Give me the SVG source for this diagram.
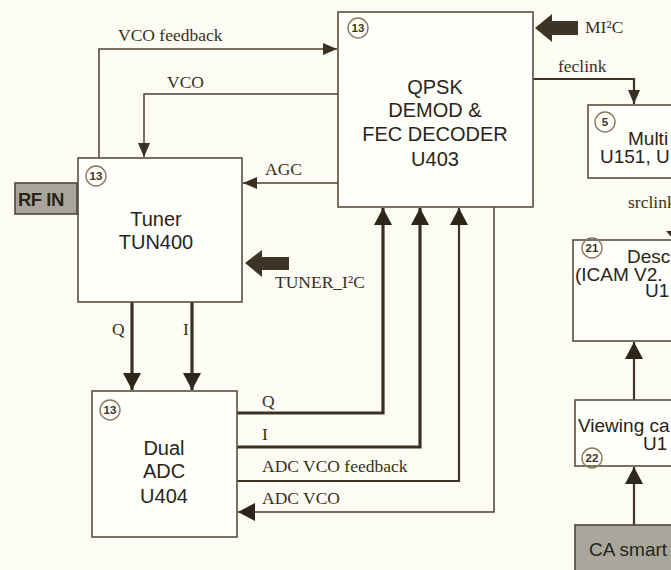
<svg xmlns="http://www.w3.org/2000/svg" width="671" height="570" viewBox="0 0 671 570">
<defs>
<style>
.box{fill:#fefefa;stroke:#5a4e3c;stroke-width:1.6}
.gray{fill:#a9a79c;stroke:#4e473a;stroke-width:1.6}
.lbl{font-family:"Liberation Sans",Arial,sans-serif;font-size:20px;fill:#2a2418}
.rl{font-size:19px}
.ser{font-family:"Liberation Serif","Times New Roman",serif;font-size:17.5px;fill:#3a3020}
.num{font-family:"Liberation Sans",Arial,sans-serif;font-size:11.5px;font-weight:bold;fill:#3e3224}
.circ{fill:none;stroke:#8a7860;stroke-width:1.4}
.thin{fill:none;stroke:#4a3f2e;stroke-width:1.5}
.med{fill:none;stroke:#3e3426;stroke-width:2.2}
.thick{fill:none;stroke:#3a3022;stroke-width:3.2}
.fat{fill:#3b3427}
</style>
<marker id="ah" viewBox="0 0 14 12" refX="14" refY="6" markerWidth="14" markerHeight="12" markerUnits="userSpaceOnUse" orient="auto">
<path d="M0,0 L14,6 L0,12 z" fill="#3a3022"/>
</marker>
<marker id="ahb" viewBox="0 0 17 18" refX="17" refY="9" markerWidth="17" markerHeight="18" markerUnits="userSpaceOnUse" orient="auto">
<path d="M0,0 L17,9 L0,18 z" fill="#2e261a"/>
</marker>
</defs>
<rect x="0" y="0" width="671" height="570" fill="#fcfbf4"/>

<g id="connectors">
<path class="thin" d="M99,158 V49 H337" marker-end="url(#ah)"/>
<path class="thin" d="M338,94 H144 V157" marker-end="url(#ah)"/>
<path class="thin" d="M338,183 H243" marker-end="url(#ah)"/>
<path class="med" d="M533,79 H634 V104" marker-end="url(#ah)"/>
<path class="thick" d="M132,302 V390" marker-end="url(#ahb)"/>
<path class="thick" d="M192,302 V390" marker-end="url(#ahb)"/>
<path class="thick" d="M237,413 H383 V208" marker-end="url(#ahb)"/>
<path class="thick" d="M237,447 H420 V208" marker-end="url(#ahb)"/>
<path class="med" d="M237,481 H459 V208" marker-end="url(#ahb)"/>
<path class="thin" d="M494,207 V512 H238" marker-end="url(#ahb)"/>
<path class="med" d="M634,400 V342" marker-end="url(#ahb)"/>
<path class="med" d="M634,525 V467" marker-end="url(#ahb)"/>
<path d="M666,231 L682,231 L674,240 z" fill="#3a3022"/>
<polygon class="fat" points="535,28 552,14 552,21 578,21 578,35 552,35 552,42"/>
<polygon class="fat" points="245,263 262,250 262,257 289,257 289,270 262,270 262,277"/>
<text class="ser" x="118" y="41">VCO feedback</text>
<text class="ser" x="167" y="88">VCO</text>
<text class="ser" x="265" y="175">AGC</text>
<text class="ser" x="585" y="33">MI²C</text>
<text class="ser" x="558" y="72">feclink</text>
<text class="ser" x="275" y="288">TUNER_I²C</text>
<text class="ser" x="112" y="335">Q</text>
<text class="ser" x="183" y="335">I</text>
<text class="ser" x="262" y="407">Q</text>
<text class="ser" x="262" y="440">I</text>
<text class="ser" x="262" y="472">ADC VCO feedback</text>
<text class="ser" x="262" y="504">ADC VCO</text>
<text class="ser" x="628" y="208">srclink</text>
</g>

<g id="qpsk">
<rect class="box" x="338" y="12" width="195" height="195"/>
<circle class="circ" cx="358" cy="28" r="10"/>
<text class="num" x="358" y="32" text-anchor="middle">13</text>
<text class="lbl" x="435" y="94" text-anchor="middle">QPSK</text>
<text class="lbl" x="435" y="117" text-anchor="middle">DEMOD &amp;</text>
<text class="lbl" x="435" y="141" text-anchor="middle">FEC DECODER</text>
<text class="lbl" x="435" y="166" text-anchor="middle">U403</text>
</g>

<g id="tuner">
<rect class="box" x="78" y="158" width="164" height="144"/>
<circle class="circ" cx="96" cy="176" r="10"/>
<text class="num" x="96" y="180" text-anchor="middle">13</text>
<text class="lbl" x="156" y="226" text-anchor="middle">Tuner</text>
<text class="lbl" x="156" y="249" text-anchor="middle">TUN400</text>
</g>

<g id="rfin">
<rect class="gray" x="15" y="183" width="62" height="31"/>
<text class="lbl" x="18" y="206" style="font-weight:bold;font-size:18.5px;letter-spacing:-0.5px">RF IN</text>
</g>

<g id="adc">
<rect class="box" x="92" y="391" width="145" height="146"/>
<circle class="circ" cx="110" cy="410" r="10"/>
<text class="num" x="110" y="414" text-anchor="middle">13</text>
<text class="lbl" x="164" y="455" text-anchor="middle">Dual</text>
<text class="lbl" x="164" y="478" text-anchor="middle">ADC</text>
<text class="lbl" x="164" y="503" text-anchor="middle">U404</text>
</g>

<g id="multiplexer">
<rect class="box" x="588" y="105" width="100" height="73"/>
<circle class="circ" cx="605" cy="122" r="10"/>
<text class="num" x="605" y="126" text-anchor="middle">5</text>
<text class="lbl rl" x="628" y="145">Multi</text>
<text class="lbl rl" x="600" y="163">U151, U</text>
</g>

<g id="descrambler">
<rect class="box" x="573" y="240" width="115" height="101"/>
<circle class="circ" cx="592" cy="248" r="10"/>
<text class="num" x="592" y="252" text-anchor="middle">21</text>
<text class="lbl rl" x="627" y="263">Desc</text>
<text class="lbl rl" x="575" y="281">(ICAM V2.</text>
<text class="lbl rl" x="645" y="297">U1</text>
</g>

<g id="viewing">
<rect class="box" x="575" y="400" width="113" height="66"/>
<circle class="circ" cx="592" cy="458" r="10"/>
<text class="num" x="592" y="462" text-anchor="middle">22</text>
<text class="lbl rl" x="578" y="432">Viewing ca</text>
<text class="lbl rl" x="643" y="450">U1</text>
</g>

<g id="casmart">
<rect class="gray" x="575" y="525" width="113" height="60"/>
<text class="lbl rl" x="589" y="556">CA smart</text>
</g>
</svg>
